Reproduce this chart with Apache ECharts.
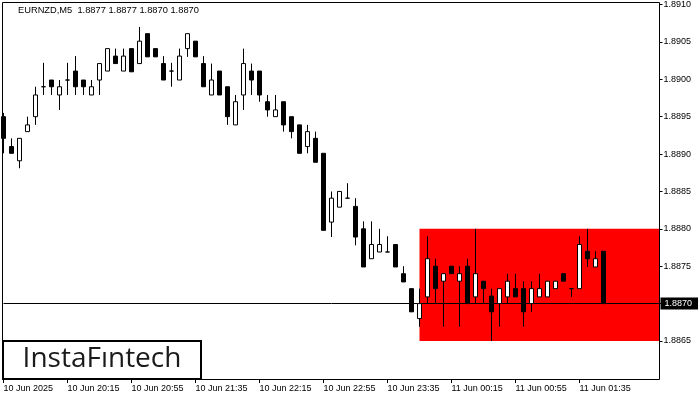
<!DOCTYPE html>
<html>
<head>
<meta charset="utf-8">
<script src="https://cdn.jsdelivr.net/npm/echarts@6/dist/echarts.min.js"></script>
<style>html,body{margin:0;padding:0;background:#fff}#c{width:700px;height:400px}</style>
</head>
<body>
<div id="c"></div>
<script>
const categories = [
 "10 Jun 19:35","10 Jun 19:40","10 Jun 19:45","10 Jun 19:50","10 Jun 19:55","10 Jun 20:00","10 Jun 20:05","10 Jun 20:10",
 "10 Jun 20:15","10 Jun 20:20","10 Jun 20:25","10 Jun 20:30","10 Jun 20:35","10 Jun 20:40","10 Jun 20:45","10 Jun 20:50",
 "10 Jun 20:55","10 Jun 21:00","10 Jun 21:05","10 Jun 21:10","10 Jun 21:15","10 Jun 21:20","10 Jun 21:25","10 Jun 21:30",
 "10 Jun 21:35","10 Jun 21:40","10 Jun 21:45","10 Jun 21:50","10 Jun 21:55","10 Jun 22:00","10 Jun 22:05","10 Jun 22:10",
 "10 Jun 22:15","10 Jun 22:20","10 Jun 22:25","10 Jun 22:30","10 Jun 22:35","10 Jun 22:40","10 Jun 22:45","10 Jun 22:50",
 "10 Jun 22:55","10 Jun 23:00","10 Jun 23:05","10 Jun 23:10","10 Jun 23:15","10 Jun 23:20","10 Jun 23:25","10 Jun 23:30",
 "10 Jun 23:35","10 Jun 23:40","10 Jun 23:45","10 Jun 23:50","10 Jun 23:55","11 Jun 00:00","11 Jun 00:05","11 Jun 00:10",
 "11 Jun 00:15","11 Jun 00:20","11 Jun 00:25","11 Jun 00:30","11 Jun 00:35","11 Jun 00:40","11 Jun 00:45","11 Jun 00:50",
 "11 Jun 00:55","11 Jun 01:00","11 Jun 01:05","11 Jun 01:10","11 Jun 01:15","11 Jun 01:20","11 Jun 01:25","11 Jun 01:30",
 "11 Jun 01:35","11 Jun 01:40","11 Jun 01:45","11 Jun 01:50","11 Jun 01:55","11 Jun 02:00","11 Jun 02:05","11 Jun 02:10",
 "11 Jun 02:15","11 Jun 02:20","11 Jun 02:25"
];
const opens = [
 1.88950,1.88910,1.88891,1.88930,1.88950,1.88990,1.88999,1.88979,1.88999,1.89011,
 1.88999,1.88979,1.88999,1.89011,1.89031,1.89011,1.89041,1.89021,1.89061,1.89041,
 1.89021,1.89011,1.88999,1.89041,1.89051,1.89021,1.88979,1.89011,1.88990,1.88939,
 1.88979,1.89011,1.89011,1.88970,1.88950,1.88970,1.88950,1.88939,1.88910,1.88921,
 1.88901,1.88809,1.88829,1.88841,1.88830,1.88800,1.88760,1.88769,1.88769,1.88779,
 1.88740,1.88720,1.88680,1.88709,1.88750,1.88730,1.88750,1.88730,1.88750,1.88709,
 1.88730,1.88710,1.88700,1.88709,1.88720,1.88720,1.88700,1.88709,1.88709,1.88720,
 1.88740,1.88720,1.88720,1.88770,1.88749,1.88770
];
const closes = [
 1.88921,1.88901,1.88921,1.88939,1.88979,1.88990,1.88990,1.88990,1.88999,1.88990,
 1.88990,1.88990,1.89021,1.89041,1.89021,1.89031,1.89010,1.89051,1.89030,1.89030,
 1.88999,1.89011,1.89031,1.89061,1.89030,1.88990,1.88999,1.88979,1.88950,1.88970,
 1.89021,1.88999,1.88979,1.88959,1.88959,1.88939,1.88930,1.88901,1.88930,1.88889,
 1.88798,1.88841,1.88850,1.88841,1.88789,1.88749,1.88779,1.88779,1.88769,1.88749,
 1.88729,1.88689,1.88700,1.88760,1.88720,1.88740,1.88740,1.88740,1.88700,1.88740,
 1.88720,1.88689,1.88720,1.88730,1.88709,1.88689,1.88720,1.88720,1.88730,1.88730,
 1.88730,1.88720,1.88779,1.88760,1.88760,1.88700
];
const lows = [
 1.88901,1.88901,1.88881,1.88930,1.88939,1.88979,1.88979,1.88959,1.88979,1.88979,
 1.88979,1.88979,1.88979,1.89011,1.89021,1.89011,1.89010,1.89021,1.89030,1.89030,
 1.88999,1.88990,1.88999,1.89030,1.89030,1.88990,1.88979,1.88979,1.88939,1.88939,
 1.88959,1.88979,1.88970,1.88950,1.88950,1.88930,1.88921,1.88901,1.88901,1.88889,
 1.88798,1.88789,1.88829,1.88841,1.88778,1.88749,1.88760,1.88769,1.88769,1.88749,
 1.88729,1.88689,1.88669,1.88700,1.88700,1.88669,1.88740,1.88669,1.88700,1.88700,
 1.88700,1.88650,1.88669,1.88700,1.88709,1.88669,1.88689,1.88709,1.88709,1.88720,
 1.88730,1.88709,1.88720,1.88749,1.88749,1.88700
];
const highs = [
 1.88955,1.88921,1.88921,1.88950,1.88990,1.89022,1.88999,1.88999,1.89022,1.89031,
 1.88999,1.88999,1.89021,1.89041,1.89041,1.89041,1.89041,1.89070,1.89061,1.89041,
 1.89031,1.89022,1.89041,1.89061,1.89051,1.89031,1.89021,1.89011,1.88990,1.88979,
 1.89041,1.89021,1.89011,1.88979,1.88979,1.88970,1.88950,1.88939,1.88939,1.88930,
 1.88901,1.88850,1.88850,1.88861,1.88841,1.88810,1.88810,1.88800,1.88790,1.88779,
 1.88750,1.88720,1.88720,1.88790,1.88760,1.88740,1.88750,1.88750,1.88760,1.88800,
 1.88730,1.88720,1.88720,1.88740,1.88740,1.88730,1.88730,1.88740,1.88730,1.88730,
 1.88740,1.88720,1.88790,1.88800,1.88770,1.88770
];
const tickLabels = ["10 Jun 2025","10 Jun 20:15","10 Jun 20:55","10 Jun 21:35","10 Jun 22:15","10 Jun 22:55","10 Jun 23:35","11 Jun 00:15","11 Jun 00:55","11 Jun 01:35"];
const tickEvery = 8;
const currentPrice = 1.8870;
const zoneTop = 1.8880, zoneBottom = 1.8865, zoneStartIndex = 52;
const title = "EURNZD,M5  1.8877 1.8877 1.8870 1.8870";

const candles = opens.map((o, i) => [o, closes[i], lows[i], highs[i]]);
const FONT = "Liberation Sans";
const showTick = (i) => i % tickEvery === 0 && i / tickEvery < tickLabels.length;

const chart = echarts.init(document.getElementById('c'), null, {renderer: 'canvas'});
chart.setOption({
  animation: false,
  backgroundColor: '#ffffff',
  textStyle: {fontFamily: FONT},
  grid: {left: 3.5, right: 40.5, top: 4, bottom: 59, containLabel: false},
  xAxis: {
    type: 'category', data: categories, boundaryGap: false, offset: 38,
    axisLine: {show: false},
    axisTick: {show: true, interval: (i) => showTick(i), length: 4, lineStyle: {color: '#000'}},
    axisLabel: {interval: (i) => showTick(i), formatter: (v, i) => tickLabels[i / tickEvery] || '',
      align: 'left', margin: 5, color: '#000', fontSize: 9, fontFamily: FONT},
    splitLine: {show: false}
  },
  yAxis: {
    type: 'value', position: 'right', min: 1.8865, max: 1.8910, interval: 0.0005, scale: true,
    axisLine: {show: false},
    axisTick: {show: true, length: 3, lineStyle: {color: '#000'}},
    axisLabel: {margin: 4, color: '#000', fontSize: 9, fontFamily: FONT,
      formatter: (v) => Math.abs(v - currentPrice) < 1e-7 ? '' : v.toFixed(4)},
    splitLine: {show: false}
  },
  series: [
    {
      type: 'line', data: [], z: 1, silent: true,
      markArea: {silent: true, itemStyle: {color: '#ff0000', opacity: 1},
        data: [[{xAxis: zoneStartIndex, yAxis: zoneTop}, {xAxis: categories.length - 1, yAxis: zoneBottom}]]}
    },
    {
      type: 'candlestick', data: candles, z: 3, clip: false, barWidth: 4,
      itemStyle: {color: '#ffffff', color0: '#000000', borderColor: '#000000', borderColor0: '#000000', borderWidth: 1},
      markLine: {silent: true, symbol: 'none', animation: false, z: 2,
        lineStyle: {color: '#000', width: 1, type: 'solid'},
        label: {show: true, position: 'end', distance: 1, formatter: currentPrice.toFixed(4),
          backgroundColor: '#000', color: '#fff', fontSize: 9, fontFamily: FONT, padding: [1, 6, 1, 4], lineHeight: 10},
        data: [[{xAxis: 0, yAxis: currentPrice}, {xAxis: categories.length - 1, yAxis: currentPrice}]]}
    }
  ],
  graphic: [
    {type: 'rect', z: 100, silent: true, shape: {x: 2.5, y: 2.5, width: 657, height: 377},
      style: {fill: null, stroke: '#000', lineWidth: 1}},
    {type: 'text', z: 100, left: 18, top: 6, silent: true,
      style: {text: title, fill: '#000', font: '9.3px "Liberation Sans"'}},
    {type: 'rect', z: 101, silent: true, shape: {x: 3, y: 341, width: 198, height: 38},
      style: {fill: '#fff', stroke: '#000', lineWidth: 2}},
    {type: 'text', z: 102, silent: true, x: 102, y: 359,
      style: {text: 'InstaFıntech', fill: '#1a1a1a', font: '28px "Open Sans"', align: 'center', verticalAlign: 'middle'}}
  ]
});
</script>
</body>
</html>
